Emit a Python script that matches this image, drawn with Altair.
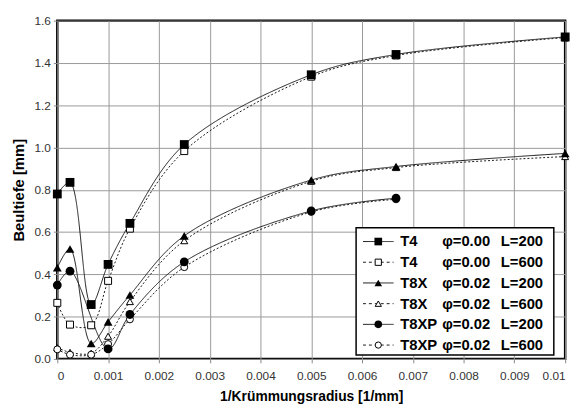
import altair as alt
import pandas as pd

# 1/Krümmungsradius [1/mm]
curvature = [0, 0.00025, 0.000667, 0.001, 0.00143, 0.0025, 0.005, 0.00667, 0.01]

# Beultiefe [mm]
t4_l200 = [0.78, 0.835, 0.257, 0.447, 0.641, 1.014, 1.344, 1.44, 1.523]
t4_l600 = [0.265, 0.162, 0.159, 0.369, 0.616, 0.983, 1.335, 1.435, 1.52]
t8x_l200 = [0.431, 0.52, 0.073, 0.175, 0.302, 0.582, 0.846, 0.91, 0.972]
t8x_l600 = [0.053, 0.031, 0.027, 0.107, 0.271, 0.559, 0.84, 0.905, 0.957]
t8xp_l200 = [0.349, 0.415, None, 0.047, 0.21, 0.459, 0.70, 0.76, None]
t8xp_l600 = [0.045, 0.02, 0.02, 0.07, 0.187, 0.434, 0.695, 0.755, None]

series_names = ["T4_200", "T4_600", "T8X_200", "T8X_600", "T8XP_200", "T8XP_600"]
series_values = [t4_l200, t4_l600, t8x_l200, t8x_l600, t8xp_l200, t8xp_l600]
series_filled = [True, False, True, False, True, False]
series_shapes = ["square", "square", "triangle-up", "triangle-up", "circle", "circle"]
legend_model = ["T4", "T4", "T8X", "T8X", "T8XP", "T8XP"]
legend_phi = ["φ=0.00", "φ=0.00", "φ=0.02", "φ=0.02", "φ=0.02", "φ=0.02"]
legend_len = ["L=200", "L=600", "L=200", "L=600", "L=200", "L=600"]

x_ticks = [0, 0.001, 0.002, 0.003, 0.004, 0.005, 0.006, 0.007, 0.008, 0.009, 0.01]
y_ticks = [0, 0.2, 0.4, 0.6, 0.8, 1.0, 1.2, 1.4, 1.6]

rows = []
for name, vals in zip(series_names, series_values):
    for xv, yv in zip(curvature, vals):
        if yv is not None:
            rows.append({"x": xv, "y": yv, "series": name})
df = pd.DataFrame(rows)

FONT = "Liberation Sans"
W, H = 515, 343

x_enc = alt.X("x:Q", scale=alt.Scale(domain=[0, 0.01], nice=False, zero=False),
              axis=alt.Axis(values=x_ticks, format="~g", title="1/Krümmungsradius [1/mm]"))
y_enc = alt.Y("y:Q", scale=alt.Scale(domain=[0, 1.6], nice=False),
              axis=alt.Axis(values=y_ticks, format=".1f", title="Beultiefe [mm]"))

dash_range = [[1, 0] if f else [2, 2] for f in series_filled]
shape_scale = alt.Scale(domain=series_names, range=series_shapes)

lines = alt.Chart(df).mark_line(interpolate="catmull-rom", color="#1a1a1a", strokeWidth=1).encode(
    x=x_enc, y=y_enc,
    strokeDash=alt.StrokeDash("series:N", scale=alt.Scale(domain=series_names, range=dash_range), legend=None),
)

open_names = [n for n, f in zip(series_names, series_filled) if not f]
filled_names = [n for n, f in zip(series_names, series_filled) if f]

open_pts = alt.Chart(df).transform_filter(
    alt.FieldOneOfPredicate(field="series", oneOf=open_names)
).mark_point(filled=True, fill="white", stroke="black", strokeWidth=1, size=50, opacity=1).encode(
    x=x_enc, y=y_enc, shape=alt.Shape("series:N", scale=shape_scale, legend=None)
)

filled_pts = alt.Chart(df).transform_filter(
    alt.FieldOneOfPredicate(field="series", oneOf=filled_names)
).mark_point(filled=True, color="black", size=80, opacity=1).encode(
    x=x_enc, y=y_enc, shape=alt.Shape("series:N", scale=shape_scale, legend=None)
)

layers = [lines, open_pts, filled_pts]

# legend (drawn manually)
box_left, box_right, box_top, box_bottom = 303, 503.5, 210, 339
one = pd.DataFrame({"k": [0]})
layers.append(alt.Chart(one).mark_rect(fill="white", stroke="black", strokeWidth=1.5).encode(
    x=alt.value(box_left), x2=alt.value(box_right), y=alt.value(box_top), y2=alt.value(box_bottom)))

row0, row_step = 224, 21
for i in range(len(series_names)):
    py = row0 + i * row_step
    dash = [1, 0] if series_filled[i] else [3, 3]
    layers.append(alt.Chart(one).mark_rule(color="#1a1a1a", strokeWidth=1, strokeDash=dash).encode(
        x=alt.value(310), x2=alt.value(341), y=alt.value(py)))
    if series_filled[i]:
        pm = alt.Chart(one).mark_point(filled=True, color="black", size=60, opacity=1, shape=series_shapes[i])
    else:
        pm = alt.Chart(one).mark_point(filled=True, fill="white", stroke="black", strokeWidth=1,
                                       size=40, opacity=1, shape=series_shapes[i])
    layers.append(pm.encode(x=alt.value(325.5), y=alt.value(py)))
    tdf = pd.DataFrame({"m": [legend_model[i]], "p": [legend_phi[i]], "l": [legend_len[i]]})
    for col, px in (("m", 347.7), ("p", 390.3), ("l", 449.7)):
        layers.append(alt.Chart(tdf).mark_text(align="left", baseline="middle", font=FONT,
                                               fontSize=15, fontWeight="bold", color="black").encode(
            x=alt.value(px), y=alt.value(py), text=f"{col}:N"))

chart = alt.layer(*layers).properties(
    width=W, height=H,
    autosize=alt.AutoSizeParams(type="none"),
    padding={"left": 50, "top": 10, "right": 11, "bottom": 48},
).configure_view(stroke="black", strokeWidth=2.5).configure_axis(
    labelFont=FONT, labelFontSize=12, labelColor="#333",
    titleFont=FONT, titleFontSize=14, titleFontWeight="bold", titleColor="black",
    gridColor="#999", gridWidth=1, tickColor="#888", tickSize=4,
    domain=False, labelPadding=3,
).configure_axisX(titlePadding=8, labelPadding=8).configure_axisY(titlePadding=8, titleFontSize=15)

chart.save("out.html", embed_options={"renderer": "svg", "actions": False})
